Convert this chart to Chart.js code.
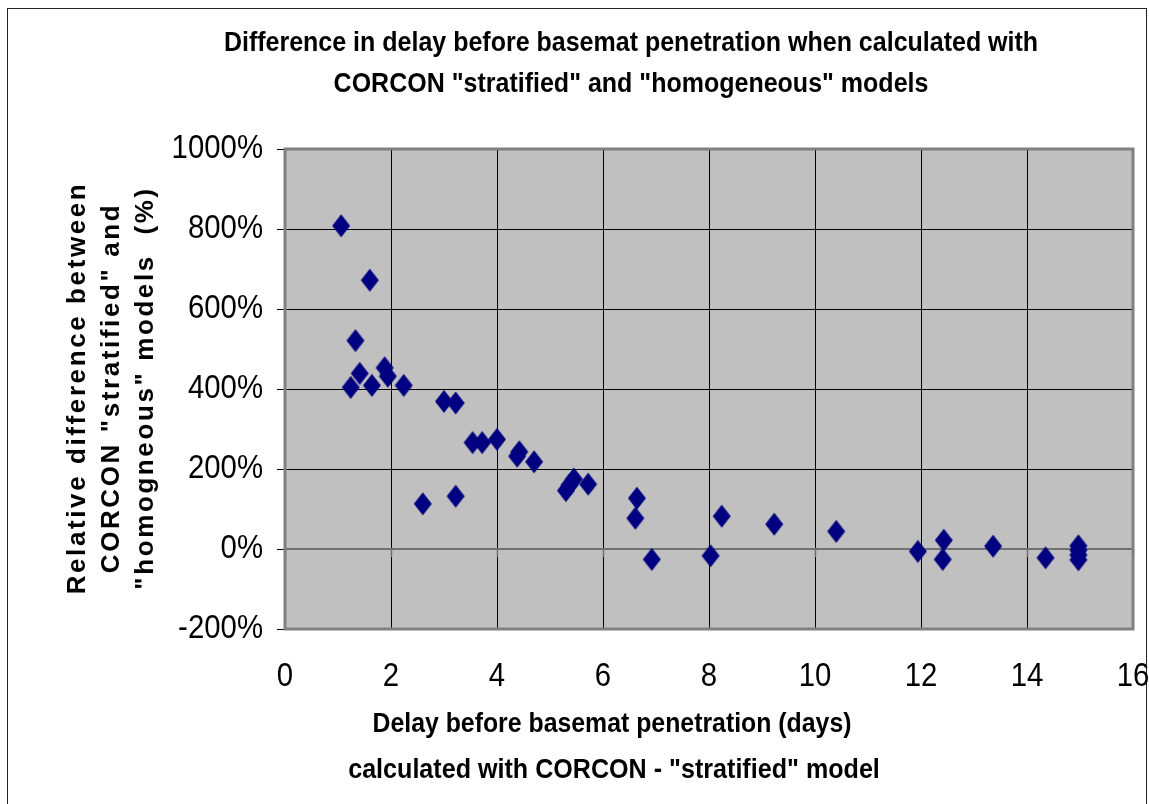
<!DOCTYPE html>
<html>
<head>
<meta charset="utf-8">
<script src="https://cdn.jsdelivr.net/npm/chart.js@4.4.0/dist/chart.umd.min.js"></script>
<style>
  html,body{margin:0;padding:0;background:#fff;}
  #wrap{position:relative;width:1149px;height:804px;overflow:hidden;}
  #frame{position:absolute;left:7px;top:8px;width:1140px;height:820px;border:1.5px solid #222;box-sizing:border-box;}
  canvas{position:absolute;left:0;top:0;}
</style>
</head>
<body>
<div id="wrap">
<div id="frame"></div>
<canvas id="c" width="1149" height="804"></canvas>
</div>
<script>
// Data
const delayDays = [1.06, 1.60, 1.33, 1.41, 1.24, 1.64, 1.88, 1.94, 2.24, 3.00, 3.22,
  3.54, 3.72, 4.00, 4.38, 4.42, 4.70, 2.60, 3.22, 5.30, 5.37, 5.45, 5.72,
  6.64, 6.61, 6.92, 8.03, 8.24, 9.23, 10.40, 11.94, 12.43, 12.41, 13.36, 14.35,
  14.97, 14.97, 14.97, 14.97];
const relDiffPct = [808, 672, 521, 439, 404, 409, 453, 432, 409, 369, 365,
  266, 266, 274, 232, 243, 218, 113, 132, 146, 160, 175, 162,
  127, 77, -26, -17, 82, 62, 44, -6, 22, -26, 7, -22,
  8, -3, -15, -27];
const xTicks = [0, 2, 4, 6, 8, 10, 12, 14, 16];
const yTicks = [-200, 0, 200, 400, 600, 800, 1000];
const titleLines = ['Difference in delay before basemat penetration when calculated with', 'CORCON "stratified" and "homogeneous" models'];
const xTitleLines = ['Delay before basemat penetration (days)', 'calculated with CORCON - "stratified" model'];
const yTitleLines = ['Relative difference between', 'CORCON "stratified" and', '"homogneous" models  (%)'];

const FONT = '"Liberation Sans", Arial, sans-serif';

// diamond marker
const mk = document.createElement('canvas');
mk.width = 20; mk.height = 26;
(function(){
  const g = mk.getContext('2d');
  g.fillStyle = '#000080';
  g.beginPath();
  g.moveTo(10, 1.5); g.lineTo(19, 13); g.lineTo(10, 24.5); g.lineTo(1, 13);
  g.closePath(); g.fill();
})();

const pts = delayDays.map((x, i) => ({x: x, y: relDiffPct[i]}));

function narrowText(ctx, text, x, y, align, f) {
  ctx.save();
  ctx.translate(x, y);
  ctx.scale(f, 1);
  ctx.textAlign = align;
  ctx.fillText(text, 0, 0);
  ctx.restore();
}

const decor = {
  id: 'decor',
  beforeDatasetsDraw(chart) {
    const {ctx, chartArea: a, scales: {x, y}} = chart;
    ctx.save();
    const y0 = y.getPixelForValue(0);
    ctx.strokeStyle = '#707070';
    ctx.lineWidth = 2;
    ctx.beginPath(); ctx.moveTo(a.left, y0); ctx.lineTo(a.right, y0); ctx.stroke();
    ctx.lineWidth = 1.5;
    xTicks.forEach(v => {
      const px = Math.round(x.getPixelForValue(v)) + 0.5;
      ctx.beginPath(); ctx.moveTo(px, y0); ctx.lineTo(px, y0 + 8); ctx.stroke();
    });
    ctx.strokeStyle = '#808080';
    ctx.lineWidth = 3;
    ctx.strokeRect(a.left, a.top, a.right - a.left, a.bottom - a.top);
    ctx.restore();
  },
  afterDraw(chart) {
    const {ctx, scales: {x, y}} = chart;
    ctx.save();
    ctx.fillStyle = '#000';
    ctx.textBaseline = 'middle';
    // tick labels
    ctx.font = '33px ' + FONT;
    yTicks.forEach(v => narrowText(ctx, v + '%', 263, y.getPixelForValue(v), 'right', 0.89));
    xTicks.forEach(v => narrowText(ctx, String(v), x.getPixelForValue(v), 677, 'center', 0.89));
    // titles
    ctx.font = 'bold 28px ' + FONT;
    narrowText(ctx, titleLines[0], 631, 43, 'center', 0.893);
    narrowText(ctx, titleLines[1], 631, 84, 'center', 0.893);
    ctx.font = 'bold 27px ' + FONT;
    narrowText(ctx, xTitleLines[0], 612, 725, 'center', 0.92);
    narrowText(ctx, xTitleLines[1], 614, 771, 'center', 0.93);
    ctx.font = 'bold 26px ' + FONT;
    try { ctx.letterSpacing = '2.6px'; } catch(e) {}
    ctx.textAlign = 'center';
    const xs = [78, 112, 146];
    yTitleLines.forEach((t, i) => {
      ctx.save();
      ctx.translate(xs[i], 388);
      ctx.rotate(-Math.PI / 2);
      ctx.fillText(t, 0, 0);
      ctx.restore();
    });
    ctx.restore();
  }
};

new Chart(document.getElementById('c'), {
  type: 'scatter',
  data: {
    datasets: [{
      data: pts,
      pointStyle: mk,
      pointRadius: 10,
      pointHoverRadius: 10,
      backgroundColor: '#000080',
      borderColor: '#000080'
    }]
  },
  options: {
    responsive: false,
    animation: false,
    devicePixelRatio: 1,
    layout: {padding: {left: 0, top: 149, right: 16, bottom: 0}},
    plugins: {legend: {display: false}, tooltip: {enabled: false}, title: {display: false}},
    scales: {
      x: {
        type: 'linear', min: 0, max: 16,
        afterBuildTicks: s => { s.ticks = xTicks.map(v => ({value: v})); },
        afterFit: s => { s.height = 175; s.paddingLeft = 0; s.paddingRight = 0; },
        grid: {color: '#000', lineWidth: 1, drawTicks: false},
        border: {display: false},
        ticks: {display: false}
      },
      y: {
        type: 'linear', min: -200, max: 1000,
        afterBuildTicks: s => { s.ticks = yTicks.map(v => ({value: v})); },
        afterFit: s => { s.width = 285; s.paddingTop = 0; s.paddingBottom = 0; },
        grid: {color: '#000', lineWidth: 1, drawTicks: true, tickLength: 8},
        border: {display: false},
        ticks: {display: false}
      }
    }
  },
  plugins: [{
    id: 'bg',
    beforeDraw(chart) {
      const {ctx, chartArea: a} = chart;
      ctx.save();
      ctx.fillStyle = '#c0c0c0';
      ctx.fillRect(a.left, a.top, a.right - a.left, a.bottom - a.top);
      ctx.restore();
    }
  }, decor]
});
</script>
</body>
</html>
